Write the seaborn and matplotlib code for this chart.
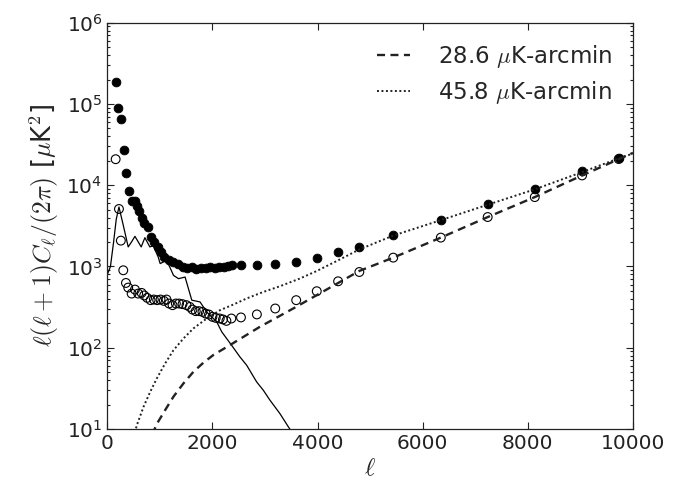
import numpy as np
import pandas as pd
import matplotlib
matplotlib.use('Agg')
import matplotlib.pyplot as plt
import seaborn as sns

# --- 読み取ったデータ ---
# 塗りつぶし丸
FILLED_ELL = [159, 209, 260, 311, 355, 412, 463, 526, 564, 607, 653, 702, 767, 824, 892,
              956, 1019, 1082, 1165, 1252, 1347, 1431, 1518, 1607, 1696, 1791, 1873, 1962,
              2044, 2125, 2214, 2296, 2372, 2546, 2846, 3195, 3594, 3985, 4391, 4795, 5440,
              6345, 7237, 8133, 9033, 9729]
FILLED_CL = [1.88e5, 8.9e4, 6.6e4, 2.75e4, 1.43e4, 8.6e3, 6.4e3, 6.4e3, 5.5e3, 4.8e3, 4.0e3,
             3.4e3, 3.1e3, 2.28e3, 2.0e3, 1.73e3, 1.5e3, 1.31e3, 1.19e3, 1.14e3, 1.08e3, 986,
             970, 986, 942, 970, 970, 986, 970, 986, 996, 1010, 1030, 1050, 1050, 1060, 1135,
             1270, 1505, 1740, 2440, 3770, 5810, 9060, 1.48e4, 2.15e4]

# 白抜き丸
OPEN_ELL = [159, 222, 258, 304, 355, 398, 463, 526, 588, 653, 702, 759, 824, 886, 949, 1013,
            1076, 1127, 1176, 1241, 1304, 1366, 1431, 1507, 1569, 1620, 1683, 1746, 1810, 1873,
            1935, 2000, 2063, 2139, 2201, 2266, 2361, 2543, 2846, 3195, 3594, 3985, 4391, 4795,
            5440, 6345, 7237, 8133, 9033, 9729]
OPEN_CL = [2.09e4, 5.1e3, 2.08e3, 898, 627, 550, 464, 520, 464, 473, 440, 411, 385, 392, 385,
           392, 377, 392, 350, 334, 350, 350, 344, 334, 318, 295, 282, 282, 276, 263, 256, 240,
           233, 229, 223, 214, 229, 236, 257, 304, 385, 496, 657, 855, 1285, 2266, 4060, 7140,
           1.32e4, 2.1e4]

# 細い実線 (理論スペクトル)
THEORY_ELL = [2, 60, 120, 170, 222, 300, 398, 460, 526, 590, 645, 715, 810, 873, 968, 1006,
              1127, 1190, 1260, 1355, 1480, 1607, 1765, 1892, 2082, 2177, 2366, 2524, 2651,
              2841, 2968, 3093, 3283, 3442, 3600]
THEORY_CL = [800, 1000, 2000, 3800, 5400, 3300, 1740, 2000, 2350, 2000, 1740, 2260, 1740, 1800,
             1310, 1085, 1190, 980, 776, 708, 741, 385, 366, 275, 208, 157, 107, 77, 61, 38,
             30, 22.7, 15.5, 10.7, 7.5]

# ノイズ曲線
NOISE1_LABEL = r'28.6 $\mu$K-arcmin'
NOISE1_ELL = [860, 930, 1101, 1259, 1449, 1639, 1829, 2019, 2366, 2903, 3537, 3757, 4795,
              5440, 6345, 7237, 8133, 9033, 10000]
NOISE1_CL = [8.5, 11.2, 17.1, 25.0, 36.4, 50.6, 65.5, 81.5, 111, 181, 304, 366, 881,
             1285, 2266, 4055, 7145, 1.32e4, 2.5e4]

NOISE2_LABEL = r'45.8 $\mu$K-arcmin'
NOISE2_ELL = [500, 564, 690, 817, 943, 1101, 1259, 1449, 1639, 1892, 2145, 2398, 2651, 2968,
              3283, 3663, 3985, 4391, 4795, 5440, 6345, 7237, 8133, 9033, 9729, 10000]
NOISE2_CL = [8.0, 11.2, 18.8, 28.7, 42.0, 64.1, 93.3, 130, 173, 229, 290, 340, 404, 486,
             571, 710, 880, 1190, 1620, 2400, 3715, 5750, 8900, 1.45e4, 2.14e4, 2.45e4]

sns.set_style('ticks')
plt.rcParams['mathtext.fontset'] = 'cm'
plt.rcParams['font.family'] = ['DejaVu Sans']
plt.rcParams['xtick.direction'] = 'in'
plt.rcParams['ytick.direction'] = 'in'

fig = plt.figure(figsize=(6.94, 4.79), dpi=100)
ax = fig.add_axes([0.1546, 0.1044, 0.7574, 0.8482])

df_th = pd.DataFrame({'ell': THEORY_ELL, 'cl': THEORY_CL})
sns.lineplot(data=df_th, x='ell', y='cl', color='black', linewidth=0.9,
             sort=False, estimator=None, ax=ax)

df_f = pd.DataFrame({'ell': FILLED_ELL, 'cl': FILLED_CL})
sns.scatterplot(data=df_f, x='ell', y='cl', color='black', edgecolor='black',
                s=40, linewidth=0.6, ax=ax, zorder=3)

df_o = pd.DataFrame({'ell': OPEN_ELL, 'cl': OPEN_CL})
sns.scatterplot(data=df_o, x='ell', y='cl', facecolor='none', edgecolor='black',
                s=40, linewidth=0.8, ax=ax, zorder=3)

df_n1 = pd.DataFrame({'ell': NOISE1_ELL, 'cl': NOISE1_CL})
sns.lineplot(data=df_n1, x='ell', y='cl', color='#222222', linewidth=1.7,
             linestyle=(0, (3.4, 2.3)), sort=False, estimator=None, ax=ax,
             label=NOISE1_LABEL, zorder=4)

df_n2 = pd.DataFrame({'ell': NOISE2_ELL, 'cl': NOISE2_CL})
sns.lineplot(data=df_n2, x='ell', y='cl', color='#222222', linewidth=1.4,
             linestyle=(0, (1, 1.3)), sort=False, estimator=None, ax=ax,
             label=NOISE2_LABEL, zorder=4)

ax.set_yscale('log')
ax.set_xlim(0, 10000)
ax.set_ylim(10, 1e6)
ax.set_xticks([0, 2000, 4000, 6000, 8000, 10000])
ax.tick_params(axis='both', which='both', top=True, right=True, labelsize=14.5,
               colors='#222222', width=0.8)
ax.tick_params(axis='both', which='major', length=5)
ax.tick_params(axis='both', which='minor', length=2.5)
for s in ax.spines.values():
    s.set_color('#222222')
    s.set_linewidth(0.9)

ax.set_xlabel(r'$\ell$', fontsize=18, labelpad=2)
ax.set_ylabel(r'$\ell(\ell+1)C_\ell/(2\pi)$ [$\mu$K$^2$]', fontsize=18.5, labelpad=4)

ax.legend(loc='upper right', frameon=False, fontsize=16.5, handlelength=1.45,
          handletextpad=1.2, borderaxespad=0.5, labelspacing=0.4)

fig.savefig('out.png', dpi=100)
